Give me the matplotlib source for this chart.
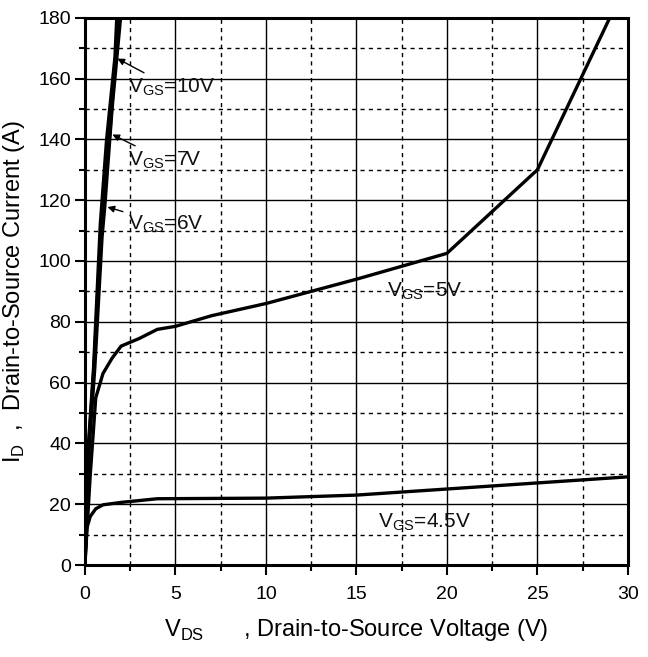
import numpy as np
import matplotlib
matplotlib.use("Agg")
import matplotlib.pyplot as plt
from matplotlib.ticker import MultipleLocator

plt.rcParams['font.family'] = ['Liberation Sans', 'DejaVu Sans']
plt.rcParams['mathtext.fontset'] = 'custom'
plt.rcParams['mathtext.rm'] = 'Liberation Sans'

# output curves (V_DS in V, I_D in A)
vds_45 = [0, 0.1, 0.3, 0.6, 1.0, 2.0, 4.0, 10, 15, 20, 25, 30]
id_45 = [0, 12, 16, 18.5, 19.8, 20.6, 21.8, 22, 23, 25, 27, 29]

vds_5 = [0, 0.3, 0.6, 1.0, 1.5, 2.0, 3.0, 4.0, 5.0, 7.0, 10, 15, 20, 25, 29.0, 29.5]
id_5 = [0, 30, 55, 63, 68, 72, 74.5, 77.5, 78.5, 82, 86, 94, 102.5, 130, 180, 186]

vds_6 = [0, 0.25, 0.55, 0.95, 1.1, 1.5, 2.05]
id_6 = [0, 40, 65, 108, 118, 150, 185]

vds_7 = [0, 0.22, 0.5, 0.9, 1.38, 1.65, 1.95]
id_7 = [0, 40, 65, 112, 142, 163, 185]

vds_10 = [0, 0.2, 0.48, 0.85, 1.2, 1.66, 1.8]
id_10 = [0, 40, 65, 112, 140, 167, 185]

fig = plt.figure(figsize=(6.48, 6.57), dpi=100)
ax = fig.add_axes([0.131, 0.140, 0.838, 0.833])

for xs, ys in [(vds_45, id_45), (vds_5, id_5), (vds_6, id_6), (vds_7, id_7), (vds_10, id_10)]:
    ax.plot(xs, ys, color='black', lw=2.4, solid_joinstyle='round')

ax.set_xlim(0, 30)
ax.set_ylim(0, 180)
ax.xaxis.set_major_locator(MultipleLocator(5))
ax.xaxis.set_minor_locator(MultipleLocator(2.5))
ax.yaxis.set_major_locator(MultipleLocator(20))
ax.yaxis.set_minor_locator(MultipleLocator(10))
ax.grid(which='major', color='black', lw=1.0, ls='-')
ax.grid(which='minor', color='black', lw=1.0, ls=(0, (3, 3)))
ax.set_axisbelow(True)
ax.tick_params(which='major', direction='out', length=7, width=1.5, labelsize=14)
ax.tick_params(axis='x', which='major', pad=8)
ax.tick_params(axis='y', which='major', pad=3)
ax.tick_params(which='minor', direction='out', length=4, width=1.5)
for sp in ax.spines.values():
    sp.set_linewidth(2.2)

ax.set_xlabel(r'V$_{\rm DS}$      , Drain-to-Source Voltage (V)', fontsize=17, labelpad=10)
ax.set_ylabel(r'I$_{\rm D}$  ,  Drain-to-Source Current (A)', fontsize=17, labelpad=8)

lab_kw = dict(fontsize=15, color='#111111', ha='left', va='center')
ap = dict(arrowstyle='-|>', color='black', lw=1.0, mutation_scale=10)
ax.annotate(r'V$_{\rm GS}$=10V', xy=(1.66, 167), xytext=(2.4, 157),
            arrowprops=ap, **lab_kw)
ax.annotate(r'V$_{\rm GS}$=7V', xy=(1.38, 142), xytext=(2.4, 133),
            arrowprops=ap, **lab_kw)
ax.annotate(r'V$_{\rm GS}$=6V', xy=(1.1, 118), xytext=(2.4, 112),
            arrowprops=ap, **lab_kw)
ax.text(16.7, 90, r'V$_{\rm GS}$=5V', **lab_kw)
ax.text(16.2, 14, r'V$_{\rm GS}$=4.5V', **lab_kw)

fig.savefig('out.png', dpi=100)
